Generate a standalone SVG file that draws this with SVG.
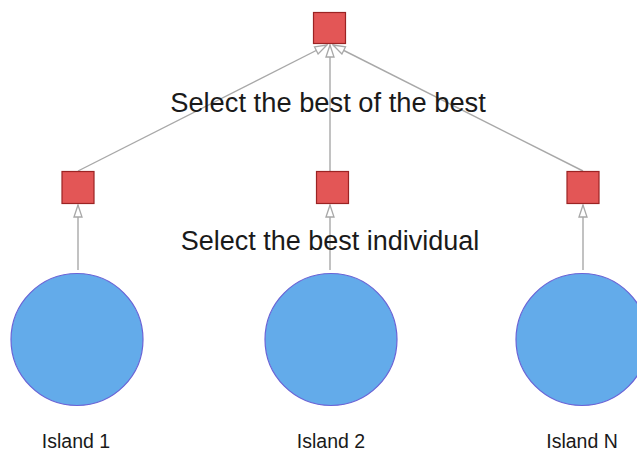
<svg xmlns="http://www.w3.org/2000/svg" width="637" height="452" viewBox="0 0 637 452">
<defs>
<style>
.sq{fill:#e35656;stroke:#9b2323;stroke-width:1.2}
.isl{fill:#63abea;stroke:#6a64d6;stroke-width:1.2}
.ln{stroke:#a8a8a8;stroke-width:1.4;fill:none;marker-end:url(#ah)}
.t{font-family:"Liberation Sans",Arial,sans-serif;fill:#1a1a1a;text-anchor:middle}
</style>
<marker id="ah" viewBox="0 0 14 10" refX="13" refY="5" markerWidth="14" markerHeight="10" markerUnits="userSpaceOnUse" orient="auto">
<path d="M1,1 L13,5 L1,9 Z" fill="#fff" stroke="#a8a8a8" stroke-width="1.3"/>
</marker>
</defs>
<rect width="637" height="452" fill="#fff"/>
<g id="connectors">
<line class="ln" x1="78" y1="171" x2="327" y2="45"/>
<line class="ln" x1="330" y1="171" x2="330" y2="45"/>
<line class="ln" x1="583" y1="171" x2="333" y2="45"/>
<line class="ln" x1="78" y1="270" x2="78" y2="205"/>
<line class="ln" x1="330" y1="270" x2="330" y2="205"/>
<line class="ln" x1="583" y1="270" x2="583" y2="205"/>
</g>
<g id="top"><rect class="sq" x="313.5" y="12.5" width="32" height="31"/></g>
<g id="sel1"><rect class="sq" x="62" y="171.5" width="32" height="32"/></g>
<g id="sel2"><rect class="sq" x="316.5" y="171.5" width="32" height="32"/></g>
<g id="selN"><rect class="sq" x="567" y="171.5" width="32" height="32"/></g>
<g id="label-best-of-best"><text class="t" x="328" y="112" font-size="27.3">Select the best of the best</text></g>
<g id="label-best-ind"><text class="t" x="330" y="250" font-size="27">Select the best individual</text></g>
<g id="island1"><circle class="isl" cx="77" cy="339.5" r="66"/><text class="t" x="76" y="447.5" font-size="19.5">Island 1</text></g>
<g id="island2"><circle class="isl" cx="331" cy="339.5" r="66"/><text class="t" x="331" y="447.5" font-size="19.5">Island 2</text></g>
<g id="islandN"><circle class="isl" cx="582" cy="339.5" r="66"/><text class="t" x="582" y="447.5" font-size="19.5">Island N</text></g>
</svg>
